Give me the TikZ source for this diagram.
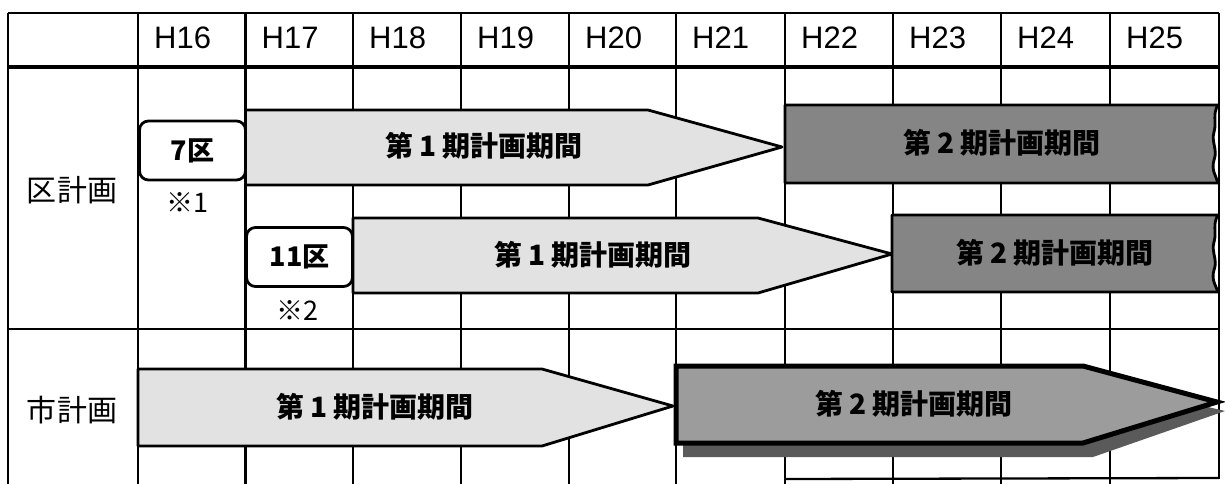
\documentclass[tikz,border=0pt]{standalone}
\usepackage{fontspec}
\setmainfont{Liberation Sans}
\newfontfamily\jp{Noto Sans CJK JP}
\definecolor{lightfill}{HTML}{E2E2E2}
\definecolor{darkfill}{HTML}{858585}
\definecolor{midfill}{HTML}{9C9C9C}
\definecolor{shadowfill}{HTML}{5A5A5A}
\begin{document}
\begin{tikzpicture}[x=1pt,y=-1pt,
  gridline/.style={line width=2.3pt,black},
  heavyline/.style={line width=4pt,black},
  hdr/.style={anchor=west,inner sep=0pt,font=\fontsize{31}{33}\selectfont},
  rowlab/.style={inner sep=0pt,font=\jp\fontsize{30}{32}\selectfont},
  barlight/.style={fill=lightfill,draw=black,line width=2.8pt,line join=round},
  bardark/.style={fill=darkfill,draw=black,line width=2.8pt,line join=round},
  bartext/.style={inner sep=0pt,font=\jp\bfseries\fontsize{28}{30}\selectfont},
  kubox/.style={draw=black,line width=2.8pt,rounded corners=9pt,fill=white,minimum width=106pt,minimum height=59pt,inner sep=0pt,font=\jp\bfseries\fontsize{27}{29}\selectfont},
  note/.style={inner sep=0pt,font=\jp\fontsize{27}{29}\selectfont}]
\useasboundingbox (0,0) rectangle (1225,484);
% ---- grid ----
\foreach \x in {138,245.5,353,461,569,676,785,893,1001,1110}
  \draw[gridline] (\x,13) -- (\x,484);
\draw[gridline] (8,13) -- (8,484);
\draw[gridline] (1219,13) -- (1219,479);
\draw[gridline] (8,13) -- (1219,13);
\draw[heavyline] (8,67) -- (1219,67);
\draw[gridline] (8,329) -- (1219,329);
\draw[gridline] (785,479) -- (1219,478);
% ---- header ----
\node[hdr] (h16) at (154,38) {H16};
\node[hdr] (h17) at (261.5,38) {H17};
\node[hdr] (h18) at (369,38) {H18};
\node[hdr] (h19) at (477,38) {H19};
\node[hdr] (h20) at (585,38) {H20};
\node[hdr] (h21) at (692,38) {H21};
\node[hdr] (h22) at (801,38) {H22};
\node[hdr] (h23) at (909,38) {H23};
\node[hdr] (h24) at (1017,38) {H24};
\node[hdr] (h25) at (1126,38) {H25};
% ---- row labels ----
\node[rowlab] (ku) at (72,190) {区計画};
\node[rowlab] (shi) at (72,410) {市計画};
% ---- ward plans ----
\draw[barlight] (245.5,110) -- (648,110) -- (782,147) -- (648,185) -- (245.5,185) -- cycle;
\node[bartext] (k1a) at (484,146) {第 1 期計画期間};
\draw[bardark] (785,105) -- (1218,105)
  .. controls (1212,115) and (1217,122) .. (1214,132)
  .. controls (1211,142) and (1218,150) .. (1214,160)
  .. controls (1211,170) and (1216,176) .. (1218,183)
  -- (785,183) -- cycle;
\node[bartext] (k2a) at (1002,143) {第 2 期計画期間};
\node[kubox] (b7) at (192.5,150.5) {7区};
\node[note] (n1) at (187,203) {※1};
\draw[barlight] (353,218) -- (758,218) -- (892,254) -- (758,293) -- (353,293) -- cycle;
\node[bartext] (k1b) at (593,255) {第 1 期計画期間};
\draw[bardark] (892,215) -- (1218,215)
  .. controls (1212,225) and (1217,232) .. (1214,242)
  .. controls (1211,252) and (1218,260) .. (1214,270)
  .. controls (1211,280) and (1216,286) .. (1218,292)
  -- (892,292) -- cycle;
\node[bartext] (k2b) at (1055,253) {第 2 期計画期間};
\node[kubox] (b11) at (299.5,257) {11区};
\node[note] (n2) at (297,311) {※2};
% ---- city plan ----
\draw[barlight] (138,369) -- (542,369) -- (673,406) -- (542,446) -- (138,446) -- cycle;
\node[bartext] (s1) at (375,407) {第 1 期計画期間};
\fill[shadowfill] (683,380) -- (1093,380) -- (1225,411) -- (1093,457) -- (683,457) -- cycle;
\draw[fill=midfill,draw=black,line width=5pt,line join=miter] (676,366) -- (1083,366) -- (1217,402) -- (1083,443) -- (676,443) -- cycle;
\node[bartext] (s2) at (914,404) {第 2 期計画期間};
\end{tikzpicture}
\end{document}
